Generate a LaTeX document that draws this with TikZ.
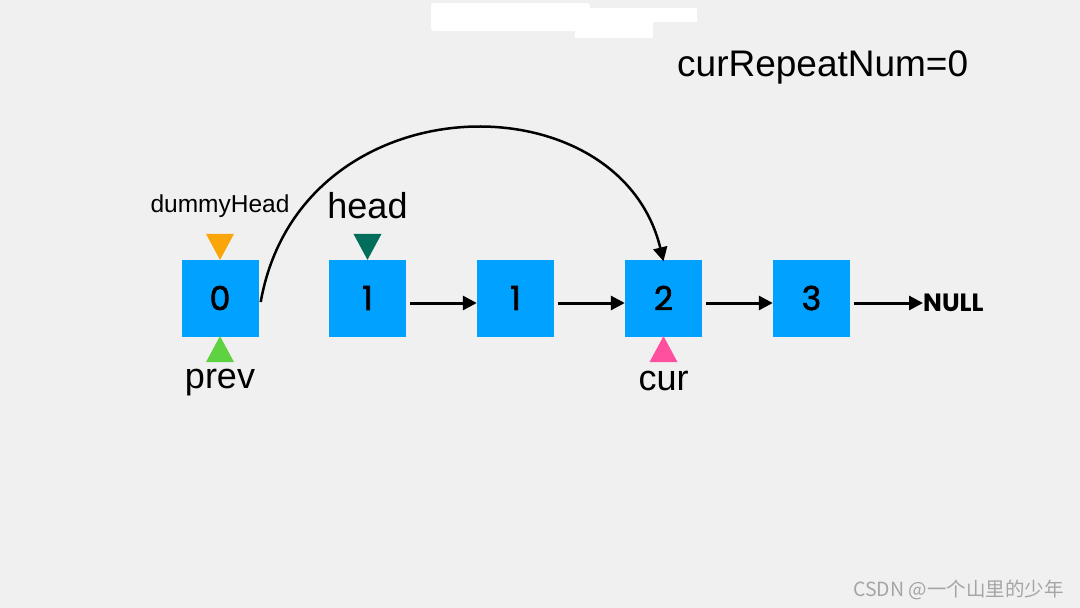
\documentclass[tikz,border=0pt]{standalone}
\usepackage{fontspec}
\setmainfont{Liberation Sans}
\newfontfamily\pop{Poppins}
\newfontfamily\popm[FakeBold=2]{Poppins}
\newfontfamily\cjk{Noto Sans CJK SC}
\usetikzlibrary{arrows.meta,shapes.geometric}
\definecolor{bg}{RGB}{240,240,240}
\definecolor{boxblue}{RGB}{0,161,255}
\definecolor{torange}{RGB}{250,166,10}
\definecolor{tteal}{RGB}{0,110,90}
\definecolor{tgreen}{RGB}{95,210,65}
\definecolor{tpink}{RGB}{255,80,160}
\definecolor{wmgray}{RGB}{165,165,165}
\tikzset{
  listnode/.style={fill=boxblue, minimum width=77pt, minimum height=77pt, inner sep=0pt, font=\popm\fontsize{33}{36}\selectfont},
  link/.style={line width=3pt, -{Triangle[length=14pt,width=14pt]}},
  ptrdown/.style={isosceles triangle, isosceles triangle apex angle=60, isosceles triangle stretches, shape border rotate=-90, inner sep=0pt, minimum height=26pt, minimum width=28pt, anchor=apex},
  ptrup/.style={isosceles triangle, isosceles triangle apex angle=60, isosceles triangle stretches, shape border rotate=90, inner sep=0pt, minimum height=26pt, minimum width=28pt, anchor=apex},
  biglabel/.style={font=\fontsize{36}{40}\selectfont, inner sep=0pt},
}
\begin{document}
\begin{tikzpicture}[x=1pt,y=-1pt]
\fill[bg] (0,0) rectangle (1080,608);
\useasboundingbox (0,0) rectangle (1080,608);
% white blob at top
\fill[white, rounded corners=3pt] (431,3) rectangle (590,31);
\fill[white] (500,8) rectangle (697,22);
\fill[white] (575,22) rectangle (653,38);
% nodes
\node[listnode] (n0) at (220,298) {0};
\node[listnode] (n1) at (367.5,298) {1};
\node[listnode] (n2) at (515.5,298) {1};
\node[listnode] (n3) at (663.5,298) {2};
\node[listnode] (n4) at (811.5,298) {3};
\node[font=\pop\bfseries\fontsize{25}{28}\selectfont, anchor=west, inner sep=0pt] (null) at (923,303) {NULL};
% links
\draw[link] ([xshift=4pt,yshift=-5pt]n1.east) -- ([yshift=-5pt]n2.west);
\draw[link] ([xshift=4pt,yshift=-5pt]n2.east) -- ([yshift=-5pt]n3.west);
\draw[link] ([xshift=4pt,yshift=-5pt]n3.east) -- ([yshift=-5pt]n4.west);
\draw[link] ([xshift=4pt,yshift=-5pt]n4.east) -- ([yshift=-5pt]n4.east -| null.west);
% curve
\coordinate (cs) at ([xshift=2pt,yshift=-4pt]n0.east);
\coordinate (ce) at ([yshift=-2pt]n3.north);
\draw[line width=2.5pt, -{Triangle[length=14pt,width=14pt]}] (cs) .. controls (300,80) and (619,76) .. (ce);
% pointers
\node[ptrdown, fill=torange] (tdh) at ([yshift=-1pt]n0.north) {};
\node[ptrdown, fill=tteal] (thead) at ([yshift=-1pt]n1.north) {};
\node[ptrup, fill=tgreen] (tprev) at ([yshift=1pt]n0.south) {};
\node[ptrup, fill=tpink] (tcur) at ([yshift=1pt]n3.south) {};
\node[font=\fontsize{24.5}{28}\selectfont, inner sep=0pt] (ldh) at (220,206) {dummyHead};
\node[biglabel] (lhead) at (367.5,206) {head};
\node[biglabel] (lprev) at (220,383) {prev};
\node[biglabel] (lcur) at (663.5,381) {cur};
\node[font=\fontsize{37}{40}\selectfont, inner sep=0pt, anchor=west] (rep) at (677,67) {curRepeatNum=0};
% watermark
\node[font=\cjk\fontsize{19.5}{22}\selectfont, text=wmgray, anchor=west, inner sep=0pt] (wm) at (853,590) {CSDN @一个山里的少年};
\end{tikzpicture}
\end{document}
